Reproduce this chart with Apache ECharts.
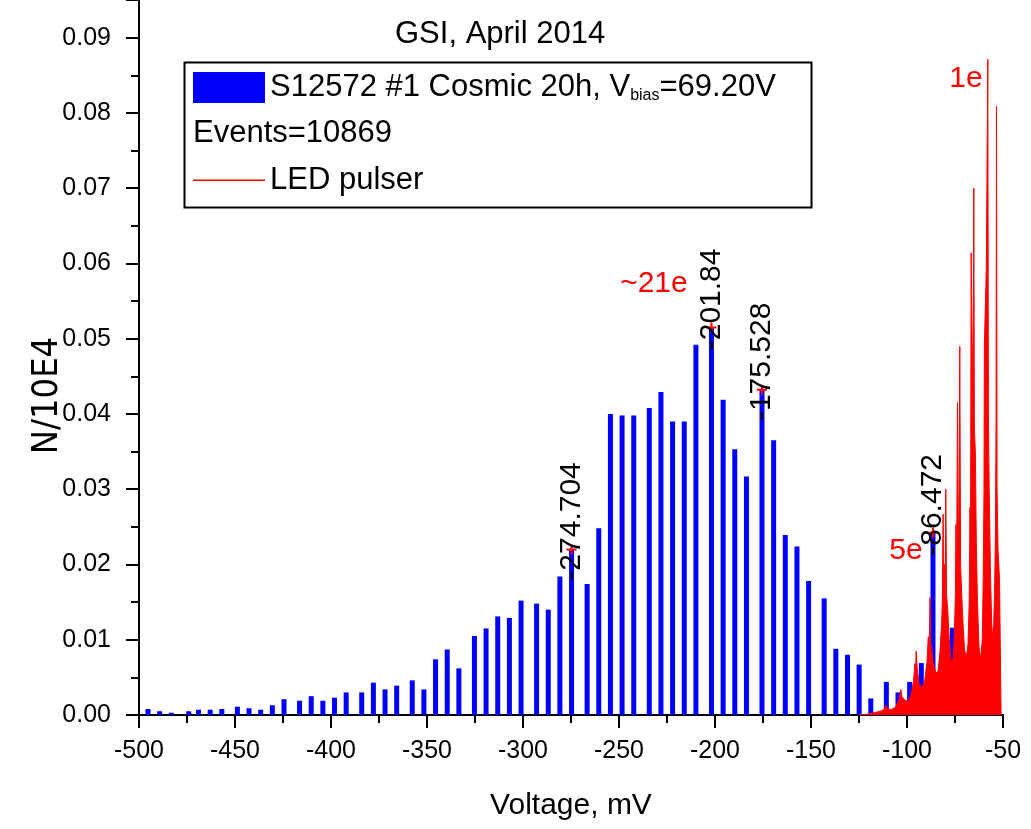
<!DOCTYPE html>
<html><head><meta charset="utf-8">
<script src="https://cdn.jsdelivr.net/npm/echarts@6/dist/echarts.min.js"></script>
<style>html,body{margin:0;padding:0;background:#fff}#c{width:1031px;height:829px}</style>
</head><body><div id="c"></div>
<script>
// Cosmic spectrum (blue histogram bars): voltage (mV) and N/10E4
const cosmicX = [-495.32,-489.248,-483.176,-474.08,-469.008,-462.936,-456.864,-448.768,-442.696,-436.624,
  -430.552,-424.48,-416.384,-410.312,-404.24,-398.168,-392.096,-384.0,-377.928,-371.856,
  -365.784,-357.688,-351.616,-345.544,-339.472,-333.4,-325.304,-319.232,-313.16,-307.088,
  -301.016,-292.92,-286.848,-280.776,-274.704,-266.608,-260.536,-254.464,-248.392,-242.32,
  -234.224,-228.152,-222.08,-216.008,-209.936,-201.84,-195.768,-189.696,-183.624,-175.528,
  -169.456,-163.384,-157.312,-151.24,-143.144,-137.072,-131.0,-124.928,-118.856,-110.76,
  -104.688,-98.616,-92.544,-86.472,-76.352];
const cosmicY = [0.0008,0.0005,0.0003,0.0005,0.0007,0.0007,0.0008,0.0011,0.0009,0.0007,
  0.0013,0.0021,0.0019,0.0025,0.0019,0.0023,0.0030,0.0030,0.0043,0.0034,
  0.0039,0.0046,0.0034,0.0074,0.0087,0.0062,0.0105,0.0115,0.0131,0.0129,
  0.0152,0.0148,0.0140,0.0184,0.0220,0.0174,0.0248,0.0400,0.0398,0.0398,
  0.0408,0.0429,0.0390,0.0390,0.0492,0.0515,0.0419,0.0353,0.0317,0.0432,
  0.0365,0.0239,0.0224,0.0178,0.0155,0.0088,0.0080,0.0067,0.0022,0.0044,
  0.0030,0.0044,0.0069,0.0242,0.0116];

// LED pulser spectrum (red filled line)
const ledX = [-125.0,-121.0,-117.0,-114.0,-112.0,-110.9,-110.3,-108.5,-106.0,-104.3,
  -103.2,-102.6,-101.2,-99.5,-97.8,-96.6,-95.9,-95.6,-95.2,-94.7,
  -93.7,-92.3,-90.8,-89.6,-88.9,-88.5,-88.0,-87.6,-87.0,-86.2,
  -85.0,-83.8,-82.8,-82.0,-81.6,-81.2,-80.9,-80.5,-80.2,-79.8,
  -79.4,-78.8,-78.0,-77.0,-76.0,-75.3,-74.8,-74.5,-74.2,-73.7,
  -73.3,-72.9,-72.5,-72.1,-71.5,-70.8,-70.0,-69.0,-68.2,-67.6,
  -67.2,-66.9,-66.6,-65.9,-65.6,-65.2,-64.9,-64.4,-63.9,-63.3,
  -62.5,-61.6,-60.8,-60.3,-59.9,-59.7,-59.0,-58.7,-58.2,-57.9,
  -57.6,-57.2,-56.6,-55.9,-55.1,-54.4,-53.9,-53.6,-53.4,-53.1,
  -52.6,-51.8,-51.3,-51.0];
const ledY = [0.0000,0.0001,0.0003,0.0005,0.0007,0.0013,0.0009,0.0007,0.0010,0.0020,
  0.0034,0.0024,0.0020,0.0018,0.0028,0.0045,0.0068,0.0056,0.0085,0.0062,
  0.0042,0.0036,0.0045,0.0070,0.0104,0.0080,0.0156,0.0095,0.0085,0.0068,
  0.0056,0.0058,0.0085,0.0120,0.0150,0.0267,0.0160,0.0200,0.0150,0.0300,
  0.0160,0.0140,0.0100,0.0072,0.0075,0.0110,0.0160,0.0254,0.0170,0.0415,
  0.0220,0.0300,0.0490,0.0200,0.0160,0.0120,0.0085,0.0078,0.0095,0.0150,
  0.0276,0.0220,0.0614,0.0614,0.0400,0.0700,0.0380,0.0350,0.0230,0.0150,
  0.0090,0.0075,0.0100,0.0180,0.0300,0.0493,0.0493,0.0592,0.0592,0.0871,
  0.0400,0.0300,0.0200,0.0120,0.0100,0.0160,0.0250,0.0400,0.0809,0.0300,
  0.0220,0.0180,0.0180,0.0000];

// Peak annotations (black, rotated)
const peakX = [-274.704, -201.84, -175.528, -86.472];
const peakText = ['-274.704', '-201.84', '-175.528', '-86.472'];
const peakY = peakX.map(x => cosmicY[cosmicX.indexOf(x)]);

// Photo-electron labels (red)
const peText = ['~21e', '1e', '5e'];
const peX = [-231.8, -69.3, -100.5];
const peY = [0.0573, 0.0846, 0.0218];

const xMin = -500, xMax = -50, xStep = 50;
const yMin = 0, yMax = 0.095, yStep = 0.01;

const cosmicName = 'S12572 #1 Cosmic 20h, Vbias=69.20V';
const ledName = 'LED pulser';
const eventsText = 'Events=10869';
const titleText = 'GSI, April 2014';

const FONT = 'Liberation Sans, Arial, sans-serif';
const chart = echarts.init(document.getElementById('c'), null, {renderer: 'canvas'});
const axisCommon = {
  axisLine: {show: true, onZero: false, lineStyle: {color: '#000', width: 2}},
  axisTick: {show: true, inside: false, length: 13, lineStyle: {color: '#000', width: 2}},
  minorTick: {show: true, splitNumber: 2, length: 8, lineStyle: {color: '#000', width: 2}},
  splitLine: {show: false},
  minorSplitLine: {show: false}
};
chart.setOption({
  animation: false,
  backgroundColor: '#fff',
  title: {text: titleText, left: 390, top: 14,
    textStyle: {fontFamily: FONT, fontSize: 31, fontWeight: 'normal', color: '#000'}},
  grid: {left: 139, right: 28, top: 0, bottom: 114, containLabel: false},
  legend: {
    orient: 'vertical', left: 193, top: 72, padding: 0, itemWidth: 72, itemHeight: 31, itemGap: 61,
    selectedMode: false,
    textStyle: {fontFamily: FONT, fontSize: 31, color: '#000',
      rich: {t: {fontFamily: FONT, fontSize: 31, color: '#000'},
             s: {fontFamily: FONT, fontSize: 16, color: '#000', padding: [16, 0, 0, 0]}}},
    formatter: n => n === cosmicName ? '{t|S12572 #1 Cosmic 20h, V}{s|bias}{t|=69.20V}' : n,
    data: [
      {name: cosmicName, icon: 'rect'},
      {name: ledName, icon: 'path://M0,0h0.01v0.01h-0.01zM0,15h72v1.5h-72zM71.99,30.99h0.01v0.01h-0.01z',
       itemStyle: {color: '#ff0000'}}
    ]
  },
  graphic: [
    {type: 'rect', left: 182, top: 60, shape: {width: 627, height: 145}, z: 100,
     style: {fill: 'none', stroke: '#000', lineWidth: 2}},
    {type: 'text', left: 193, top: 118, z: 100,
     style: {text: eventsText, font: '31px ' + FONT, fill: '#000'}}
  ],
  xAxis: Object.assign({
    type: 'value', min: xMin, max: xMax, interval: xStep,
    name: 'Voltage, mV', nameLocation: 'middle', nameGap: 76, nameMoveOverlap: false,
    nameTextStyle: {fontFamily: FONT, fontSize: 30, color: '#000'},
    axisLabel: {fontFamily: FONT, fontSize: 25, color: '#000', margin: 24, formatter: v => String(v)}
  }, axisCommon),
  yAxis: Object.assign({
    type: 'value', min: yMin, max: yMax, interval: yStep,
    name: 'N/10E4', nameLocation: 'middle', nameGap: 73, nameMoveOverlap: false,
    nameTextStyle: {fontFamily: 'Liberation Sans Narrow, DejaVu Sans Condensed, Liberation Sans, sans-serif',
      fontSize: 36, color: '#000', padding: [0, 76, 0, 0]},
    axisLabel: {fontFamily: FONT, fontSize: 25, color: '#000', margin: 28, showMaxLabel: false,
      formatter: v => v.toFixed(2)}
  }, axisCommon),
  series: [
    {name: cosmicName, type: 'bar', barWidth: 5, z: 2,
     itemStyle: {color: '#0000ff'},
     data: cosmicX.map((x, i) => [x, cosmicY[i]])},
    {name: ledName, type: 'line', z: 3, symbol: 'none', showSymbol: false,
     lineStyle: {color: '#ff0000', width: 1}, itemStyle: {color: '#ff0000'},
     areaStyle: {color: '#ff0000', opacity: 1},
     data: ledX.map((x, i) => [x, ledY[i]])},
    {name: 'peaks', type: 'scatter', z: 5, symbolSize: 10,
     symbol: 'path://M4,0h2v10h-2zM0,4h10v2h-10z',
     itemStyle: {color: '#ff0000', opacity: 1},
     label: {show: true, position: 'inside', rotate: 90, align: 'center', verticalAlign: 'middle',
       offset: [28, 0], fontFamily: FONT, fontSize: 30, color: '#000', opacity: 1,
       formatter: p => p.data[2]},
     data: peakX.map((x, i) => [x, peakY[i], peakText[i]])},
    {name: 'pe', type: 'scatter', z: 5, symbolSize: 1,
     itemStyle: {color: 'rgba(0,0,0,0)', opacity: 1},
     label: {show: true, position: 'inside', fontFamily: FONT, fontSize: 30, color: '#ff0000',
       formatter: p => p.data[2]},
     data: peX.map((x, i) => [x, peY[i], peText[i]])}
  ]
});
</script></body></html>
